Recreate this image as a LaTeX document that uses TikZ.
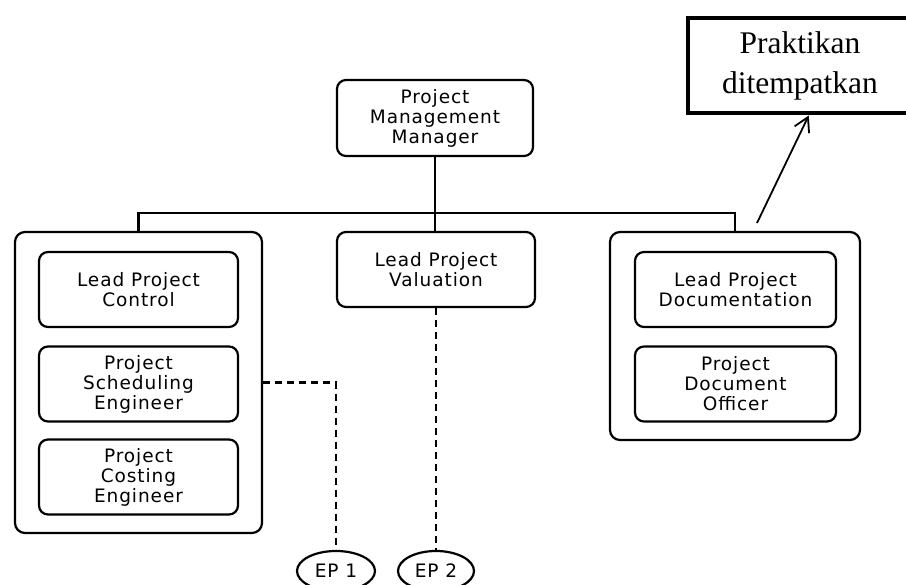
\documentclass[tikz,border=0pt]{standalone}
\usepackage{fontspec}
\newfontfamily\boxfont[LetterSpace=5]{DejaVu Sans}
\newfontfamily\notefont{Liberation Serif}
\usetikzlibrary{shapes.geometric,arrows.meta}
\begin{document}
\begin{tikzpicture}[x=1pt,y=-1pt,line width=2.2pt,
  box/.style={draw, rounded corners=9pt, align=center, inner sep=0pt, minimum width=199pt, minimum height=75pt, font=\boxfont\fontsize{18.5}{20}\selectfont},
  grp/.style={draw, rounded corners=10pt, inner sep=0pt},
  ep/.style={draw, ellipse, inner sep=0pt, minimum height=40pt, font=\boxfont\fontsize{18.5}{20}\selectfont},
  link/.style={dash pattern=on 7pt off 5pt}]
\useasboundingbox (0,0) rectangle (906,585);
\node[box, minimum width=196pt, minimum height=76pt] (pmm) at (435,118){Project\\Management\\Manager};
\node[grp, minimum width=247pt, minimum height=301pt] (grp1) at (138.5,382.5){};
\node[box] (ctl) at (138.5,289.5){Lead Project\\Control};
\node[box] (sch) at (138.5,384){Project\\Scheduling\\Engineer};
\node[box] (cst) at (138.5,477){Project\\Costing\\Engineer};
\node[box, minimum width=198pt] (val) at (436,269.5){Lead Project\\Valuation};
\node[grp, minimum width=250pt, minimum height=208pt] (grp3) at (735,336){};
\node[box, minimum width=201pt] (doc) at (735.5,289.5){Lead Project\\Documentation};
\node[box, minimum width=201pt] (off) at (735.5,384){Project\\Document\\Officer};
\node[ep, minimum width=78pt] (ep1) at (336,571){EP 1};
\node[ep, minimum width=76pt] (ep2) at (436,571){EP 2};
\node[draw, line width=4pt, minimum width=224pt, minimum height=95pt, align=center, inner sep=0pt, font=\notefont\fontsize{31.5}{40}\selectfont] (prk) at (800,66){Praktikan\\ditempatkan};
\coordinate (bus) at (435,213);
\coordinate (tail) at (757,223);
\draw[](pmm.south) -- (pmm.south |- val.north);
\draw[](grp1.north) |- (bus) -| (grp3.north);
\draw[link](grp1.east) -| (ep1.north);
\draw[link](val.south) -- (ep2.north);
\draw[-{Straight Barb[length=14pt,width=16pt]}, line width=1.8pt](tail) -- (prk.-80);
\end{tikzpicture}
\end{document}
